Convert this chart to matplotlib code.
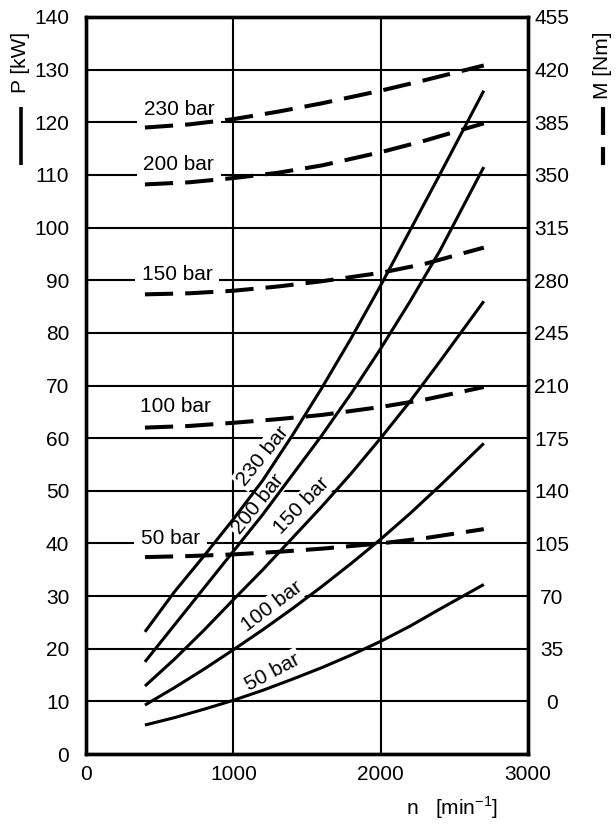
import matplotlib.pyplot as plt
from matplotlib.lines import Line2D

# speed points used for the power curves [min-1]
n_power = [400, 600, 800, 1000, 1200, 1400, 1600, 1800, 2000, 2200, 2400, 2700]
p_230 = [23.2, 30.8, 37.6, 44.6, 52.0, 60.5, 69.5, 79.0, 89.0, 99.5, 110.0, 126.0]
p_200 = [17.5, 24.5, 31.5, 38.5, 45.5, 53.0, 60.5, 68.5, 77.0, 86.0, 95.5, 111.5]
p_150 = [12.9, 18.0, 23.5, 29.3, 35.0, 41.0, 47.0, 53.3, 60.0, 67.0, 74.5, 86.0]
p_100 = [9.3, 12.6, 16.1, 19.8, 23.6, 27.6, 31.8, 36.2, 40.8, 45.7, 50.9, 59.0]
p_50 = [5.5, 6.9, 8.5, 10.2, 12.1, 14.2, 16.4, 18.8, 21.4, 24.3, 27.5, 32.2]

# speed points used for the torque curves [min-1], torque in Nm
n_torque = [400, 700, 1000, 1300, 1600, 2000, 2300, 2700]
m_230 = [381.5, 383.6, 387.1, 392.0, 397.6, 406.0, 413.0, 422.8]
m_200 = [343.7, 345.1, 347.9, 351.4, 356.3, 365.1, 372.8, 384.3]
m_150 = [270.6, 271.3, 273.0, 275.8, 279.3, 284.9, 290.9, 301.7]
m_100 = [182.0, 183.1, 185.2, 187.6, 190.4, 195.7, 200.6, 209.0]
m_50 = [95.9, 96.6, 97.7, 99.4, 101.5, 105.0, 108.5, 114.5]

pressures = ['230 bar', '200 bar', '150 bar', '100 bar', '50 bar']
power = [p_230, p_200, p_150, p_100, p_50]
torque = [m_230, m_200, m_150, m_100, m_50]

# label spots: torque labels (left, straight) and power labels (rotated)
torque_lab = [(630, 122.5), (630, 112.0), (617, 91.0), (610, 66.0), (576, 41.0)]
power_lab = [(1200, 56.6, 51), (1170, 47.4, 51), (1465, 47.2, 46), (1260, 28.0, 37), (1265, 15.6, 28)]

plt.rcParams['font.family'] = ['Liberation Sans', 'DejaVu Sans']
plt.rcParams['mathtext.fontset'] = 'custom'
plt.rcParams['mathtext.rm'] = 'Liberation Sans'
FS = 15

fig = plt.figure(figsize=(6.16, 8.25), dpi=100)
ax = fig.add_axes([86 / 616, 1 - 754 / 825, 442 / 616, 737 / 825])
ax2 = ax.twinx()

ax.set_xlim(0, 3000)
ax.set_ylim(0, 140)
ax2.set_ylim(-35, 455)
ax.set_xticks([0, 1000, 2000, 3000])
ax.set_yticks(range(0, 141, 10))
ax2.set_yticks(range(0, 456, 35))

ax.grid(True, color='black', linewidth=1.5, zorder=1)
ax.set_axisbelow(True)

for sp in list(ax.spines.values()) + list(ax2.spines.values()):
    sp.set_linewidth(2.4)

ax.tick_params(axis='y', length=0, pad=12, labelsize=FS)
ax.tick_params(axis='x', length=0, pad=8, labelsize=FS)
ax2.tick_params(axis='y', length=0, pad=17, labelsize=FS)
for lab in ax2.get_yticklabels():
    lab.set_horizontalalignment('center')

for p in power:
    ax.plot(n_power, p, color='black', lw=2.2, zorder=4, solid_capstyle='butt')

for m in torque:
    ax.plot(n_torque, m, color='black', lw=2.9, zorder=4,
            linestyle=(0, (7.0, 3.0)), dash_capstyle='butt',
            transform=ax2.transData)

for name, (x, y) in zip(pressures, torque_lab):
    ax.text(x, y, name, fontsize=FS, ha='center', va='center', zorder=2,
            bbox=dict(facecolor='white', edgecolor='none', pad=5))

for name, (x, y, rot) in zip(pressures, power_lab):
    ax.text(x, y, name, fontsize=FS, ha='center', va='center', rotation=rot,
            rotation_mode='anchor', zorder=2,
            bbox=dict(facecolor='white', edgecolor='none', pad=1.5))

# axis titles with their line keys
fig.text(452 / 616, 1 - 808 / 825, r'n   [min$^{-1}$]', fontsize=FS, ha='center', va='center')
fig.text(21 / 616, 1 - 62 / 825, 'P [kW]', fontsize=FS, rotation=90, ha='center', va='center')
fig.text(603 / 616, 1 - 65 / 825, 'M [Nm]', fontsize=FS, rotation=90, ha='center', va='center')
fig.add_artist(Line2D([21 / 616, 21 / 616], [1 - 107 / 825, 1 - 165 / 825],
                      color='black', lw=2.6, solid_capstyle='butt'))
fig.add_artist(Line2D([603 / 616, 603 / 616], [1 - 107 / 825, 1 - 165 / 825],
                      color='black', lw=3.0, linestyle=(0, (6.7, 2.9)),
                      dash_capstyle='butt'))

fig.savefig('out.png', dpi=100)
